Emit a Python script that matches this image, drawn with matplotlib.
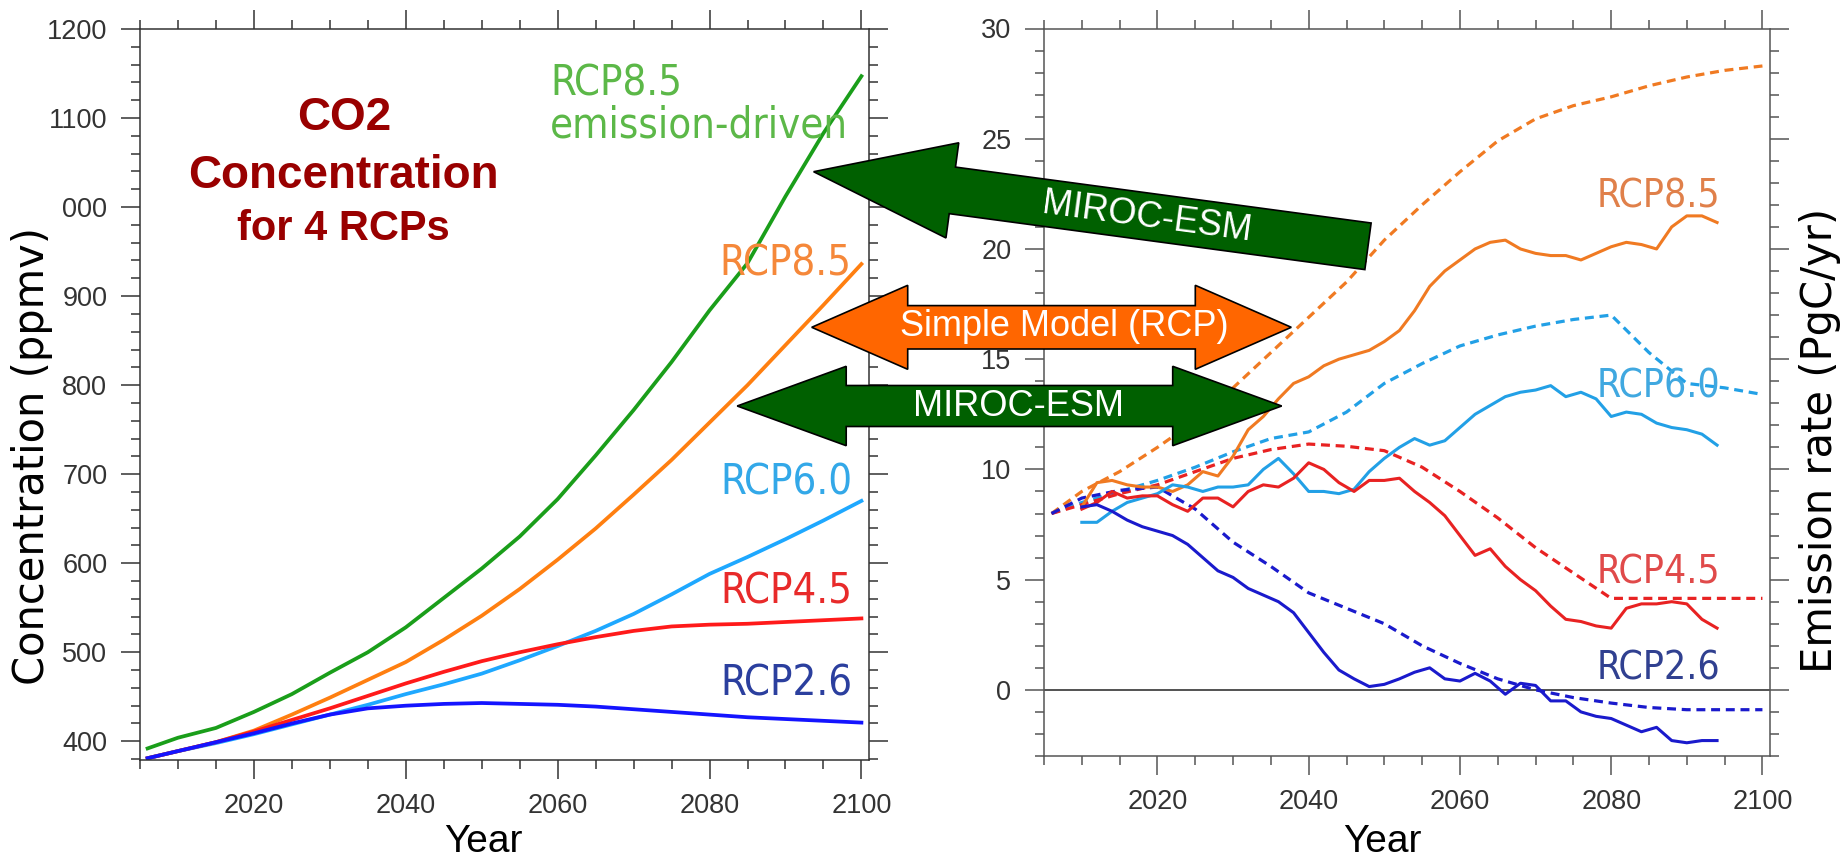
import numpy as np
import matplotlib
matplotlib.use("Agg")
import matplotlib.pyplot as plt
from matplotlib.patches import Polygon
from matplotlib.ticker import MultipleLocator, FixedLocator
from matplotlib import font_manager
from matplotlib.font_manager import FontProperties

plt.rcParams["font.family"] = "Liberation Sans"

# ---- CO2 concentration (ppmv) ----
years_c = [2006, 2010, 2015, 2020, 2025, 2030, 2035, 2040, 2045, 2050,
           2055, 2060, 2065, 2070, 2075, 2080, 2085, 2090, 2095, 2100]
co2_85_esm = [392, 404, 415, 433, 453, 477, 500, 528, 561, 594,
              630, 672, 721, 772, 826, 884, 937, 1012, 1083, 1147]
co2_85 = [381, 389, 399, 412, 430, 449, 469, 489, 514, 541,
          571, 604, 639, 677, 716, 758, 800, 845, 890, 936]
co2_60 = [381, 389, 398, 408, 419, 430, 441, 453, 464, 476,
          491, 507, 524, 543, 565, 588, 607, 627, 648, 670]
co2_45 = [381, 389, 399, 411, 424, 437, 451, 465, 478, 490,
          500, 509, 517, 524, 529, 531, 532, 534, 536, 538]
co2_26 = [381, 389, 399, 409, 420, 430, 437, 440, 442, 443,
          442, 441, 439, 436, 433, 430, 427, 425, 423, 421]
conc_ticks = [400, 500, 600, 700, 800, 900, 1000, 1100, 1200]
conc_ticklabels = ["400", "500", "600", "700", "800", "900", "000", "1100", "1200"]

# ---- emission rate (PgC/yr): simple model (dashed) ----
years_d = [2006, 2010, 2015, 2020, 2025, 2030, 2035, 2040, 2045, 2050,
           2055, 2060, 2065, 2070, 2075, 2080, 2085, 2090, 2095, 2100]
em_85_rcp = [8.0, 9.0, 9.9, 11.0, 12.2, 13.7, 15.3, 16.9, 18.5, 20.4,
             22.0, 23.5, 24.9, 25.9, 26.5, 26.9, 27.4, 27.8, 28.1, 28.3]
em_60_rcp = [8.0, 8.5, 9.0, 9.5, 10.1, 10.8, 11.4, 11.7, 12.6, 13.9,
             14.8, 15.6, 16.1, 16.5, 16.8, 17.0, 15.3, 13.9, 13.7, 13.4]
em_45_rcp = [8.0, 8.4, 8.9, 9.3, 9.9, 10.5, 10.9, 11.15, 11.05, 10.85,
             10.1, 9.0, 7.8, 6.45, 5.3, 4.15, 4.15, 4.15, 4.15, 4.15]
em_26_rcp = [8.0, 8.7, 9.05, 9.2, 8.2, 6.7, 5.6, 4.4, 3.7, 3.0,
             2.0, 1.2, 0.5, 0.0, -0.35, -0.6, -0.8, -0.9, -0.9, -0.9]

# ---- emission rate (PgC/yr): MIROC-ESM (solid) ----
years_m = list(range(2010, 2095, 2))
em_85_esm = [8.3, 9.4, 9.5, 9.3, 9.2, 9.2, 9.0, 9.3, 9.9, 9.7,
             10.6, 11.8, 12.4, 13.2, 13.9, 14.2, 14.7, 15.0, 15.2, 15.4,
             15.8, 16.3, 17.2, 18.3, 19.0, 19.5, 20.0, 20.3, 20.4, 20.0,
             19.8, 19.7, 19.7, 19.5, 19.8, 20.1, 20.3, 20.2, 20.0, 21.0,
             21.5, 21.5, 21.2]
em_60_esm = [7.6, 7.6, 8.1, 8.5, 8.7, 8.9, 9.3, 9.2, 9.0, 9.2,
             9.2, 9.3, 10.0, 10.5, 9.8, 9.0, 9.0, 8.9, 9.1, 9.9,
             10.5, 11.0, 11.4, 11.1, 11.3, 11.9, 12.5, 12.9, 13.3, 13.5,
             13.6, 13.8, 13.3, 13.5, 13.2, 12.4, 12.6, 12.5, 12.1, 11.9,
             11.8, 11.6, 11.1]
em_45_esm = [8.2, 8.5, 9.0, 8.7, 8.8, 8.8, 8.4, 8.1, 8.7, 8.7,
             8.3, 9.0, 9.3, 9.2, 9.6, 10.3, 10.0, 9.4, 9.0, 9.5,
             9.5, 9.6, 9.0, 8.5, 7.9, 7.0, 6.1, 6.4, 5.6, 5.0,
             4.5, 3.8, 3.2, 3.1, 2.9, 2.8, 3.7, 3.9, 3.9, 4.0,
             3.9, 3.2, 2.8]
em_26_esm = [8.3, 8.4, 8.1, 7.7, 7.4, 7.2, 7.0, 6.6, 6.0, 5.4,
             5.1, 4.6, 4.3, 4.0, 3.5, 2.6, 1.7, 0.9, 0.5, 0.15,
             0.25, 0.5, 0.8, 1.0, 0.5, 0.4, 0.75, 0.4, -0.2, 0.3,
             0.2, -0.5, -0.5, -1.0, -1.2, -1.3, -1.6, -1.9, -1.7, -2.3,
             -2.4, -2.3, -2.3]


def narrow_font():
    # look for a condensed sans face for the curve labels
    for f in font_manager.fontManager.ttflist:
        if f.style != "normal" or f.weight not in (400, "normal", "regular"):
            continue
        if ("Narrow" in f.name or "Condensed" in f.name
                or f.stretch in ("condensed", "semi-condensed")):
            return FontProperties(fname=f.fname), 1.0
    return FontProperties(family="Liberation Sans"), 0.86


NARROW, NSCALE = narrow_font()

W, H = 1842, 858
fig = plt.figure(figsize=(W / 100, H / 100), dpi=100)


def fx(x):
    return x / W


def fy(y):
    return 1 - y / H


def ftext(x, y, s, **kw):
    return fig.text(fx(x), fy(y), s, **kw)


def style_axes(ax, col):
    for sp in ax.spines.values():
        sp.set_linewidth(1.1)
        sp.set_color(col)
    ax.tick_params(which="both", direction="out", top=True, right=True,
                   color=col, width=1.1, labelsize=19.5, labelcolor="#333333", pad=10)
    ax.tick_params(which="major", length=13.5)
    ax.tick_params(which="minor", length=6.5)
    ax.xaxis.set_major_locator(MultipleLocator(20))
    ax.xaxis.set_minor_locator(MultipleLocator(5))
    ax.set_xlim(2005, 2101)


# left: concentration
ax1 = fig.add_axes([fx(140), fy(760), (869 - 140) / W, (760 - 29) / H])
style_axes(ax1, "#333333")
ax1.set_ylim(379, 1200)
ax1.yaxis.set_major_locator(FixedLocator(conc_ticks))
ax1.set_yticklabels(conc_ticklabels)
ax1.yaxis.set_minor_locator(MultipleLocator(20))

ax1.plot(years_c, co2_85_esm, color="#1a9e1a", lw=2.7)
ax1.plot(years_c, co2_85, color="#ff7f10", lw=2.7)
ax1.plot(years_c, co2_60, color="#1ea8ff", lw=2.7)
ax1.plot(years_c, co2_45, color="#ff1a1a", lw=2.7)
ax1.plot(years_c, co2_26, color="#1414ff", lw=2.7)

# right: emission rate
ax2 = fig.add_axes([fx(1044), fy(756), (1770 - 1044) / W, (756 - 28.5) / H])
style_axes(ax2, "#555555")
ax2.set_ylim(-3, 30)
ax2.yaxis.set_major_locator(MultipleLocator(5))
ax2.yaxis.set_minor_locator(MultipleLocator(1))
ax2.axhline(0, color="#444444", lw=1.3, zorder=1)

dash = (0, (2.8, 1.8))
ax2.plot(years_d, em_85_rcp, color="#f07a22", lw=2.3, ls=dash)
ax2.plot(years_d, em_60_rcp, color="#22a0e6", lw=2.3, ls=dash)
ax2.plot(years_d, em_45_rcp, color="#e82222", lw=2.3, ls=dash)
ax2.plot(years_d, em_26_rcp, color="#1a1acc", lw=2.3, ls=dash)
ax2.plot(years_m, em_85_esm, color="#f07a22", lw=2.2)
ax2.plot(years_m, em_60_esm, color="#22a0e6", lw=2.2)
ax2.plot(years_m, em_45_esm, color="#e82222", lw=2.2)
ax2.plot(years_m, em_26_esm, color="#1a1acc", lw=2.2)

# axis titles
ttl = dict(rotation=90, ha="center", va="center", fontsize=30, family="DejaVu Sans")
ftext(32, 456, "Concentration (ppmv)", **ttl)
ftext(1820, 440, "Emission rate (PgC/yr)", **ttl)
ftext(483, 852, "Year", ha="center", va="baseline", fontsize=28)
ftext(1382, 852, "Year", ha="center", va="baseline", fontsize=28)

# panel heading
red = "#990000"
ftext(344, 130, "CO2", ha="center", va="baseline", fontsize=33, weight="bold", color=red)
ftext(343, 188, "Concentration", ha="center", va="baseline", fontsize=33, weight="bold", color=red)
ftext(343, 240, "for 4 RCPs", ha="center", va="baseline", fontsize=30, weight="bold", color=red)

# curve labels, left
lab = dict(fontproperties=NARROW, va="baseline")
lsz = 30 * NSCALE
for x, y, s, c, ha in [(550, 95, "RCP8.5", "#5cb848", "left"),
                       (550, 138, "emission-driven", "#5cb848", "left"),
                       (851, 275, "RCP8.5", "#f5883a", "right"),
                       (852, 495, "RCP6.0", "#33a8e8", "right"),
                       (852, 603, "RCP4.5", "#e82a2a", "right"),
                       (852, 695, "RCP2.6", "#2b3f9e", "right")]:
    t = ftext(x, y, s, color=c, ha=ha, **lab)
    t.set_fontsize(lsz)

# curve labels, right
rsz = 28 * NSCALE
for y, s, c in [(208, "RCP8.5", "#e0804a"), (398, "RCP6.0", "#40a8e0"),
                (583, "RCP4.5", "#e04a4a"), (680, "RCP2.6", "#304090")]:
    t = ftext(1720, y, s, color=c, ha="right", **lab)
    t.set_fontsize(rsz)


# block arrows in pixel space
def arrow_pts(tip, tail, shw, hhw, hlen, double=False):
    tip = np.array(tip, float)
    tail = np.array(tail, float)
    u = (tip - tail) / np.hypot(*(tip - tail))
    n = np.array([-u[1], u[0]])
    b1 = tip - u * hlen
    if double:
        b2 = tail + u * hlen
        pts = [b2 + n * shw, b1 + n * shw, b1 + n * hhw, tip, b1 - n * hhw,
               b1 - n * shw, b2 - n * shw, b2 - n * hhw, tail, b2 + n * hhw]
    else:
        pts = [tail + n * shw, b1 + n * shw, b1 + n * hhw, tip, b1 - n * hhw,
               b1 - n * shw, tail - n * shw]
    return [(fx(x), fy(y)) for x, y in pts]


def block_arrow(pts, fc):
    fig.add_artist(Polygon(pts, closed=True, transform=fig.transFigure,
                           fc=fc, ec="black", lw=1.2, zorder=10))


green = "#006000"
orange = "#ff6600"
block_arrow(arrow_pts((813.6, 171.7), (1368, 246.3), 23.5, 48, 140), green)
block_arrow(arrow_pts((811.7, 327.3), (1291.3, 327.3), 21.7, 42, 96, double=True), orange)
block_arrow(arrow_pts((737.2, 406), (1281.7, 406), 20.5, 39.7, 109, double=True), green)

atxt = dict(color="white", fontsize=26, ha="center", va="center", zorder=11)
ftext(1147, 218, "MIROC-ESM", rotation=-7.6, **atxt)
ftext(1064, 327, "Simple Model (RCP)", **atxt)
ftext(1018, 406, "MIROC-ESM", **atxt)

fig.savefig("out.png", dpi=100)
